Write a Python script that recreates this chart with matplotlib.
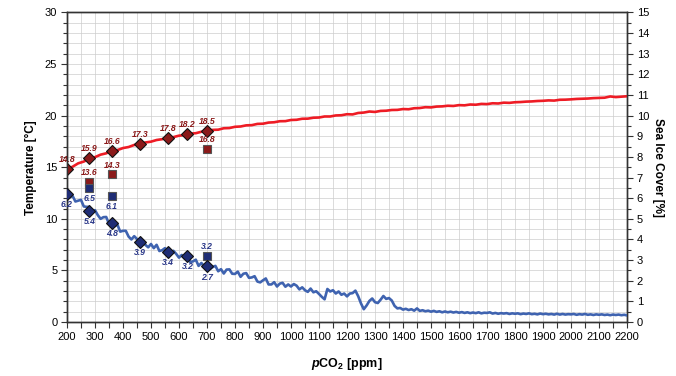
import numpy as np
import matplotlib
matplotlib.use("Agg")
import matplotlib.pyplot as plt
from matplotlib.ticker import MultipleLocator

plt.rcParams['font.family'] = ['Liberation Sans', 'DejaVu Sans']
plt.rcParams['mathtext.fontset'] = 'custom'
plt.rcParams['mathtext.it'] = 'Liberation Sans:italic:bold'
plt.rcParams['mathtext.rm'] = 'Liberation Sans:bold'
plt.rcParams['mathtext.bf'] = 'Liberation Sans:bold'

# ---- data -------------------------------------------------------------
# modelled temperature curve (left axis, °C), sampled every 20 ppm
temp_ppm = np.arange(200, 2201, 20)
temp_curve = [
    14.80, 15.05, 15.38, 15.55, 15.84, 15.98, 16.22, 16.35, 16.58, 16.66,
    16.86, 16.96, 17.16, 17.24, 17.40, 17.48, 17.64, 17.72, 17.86, 17.92,
    18.06, 18.12, 18.26, 18.30, 18.44, 18.50, 18.62, 18.64, 18.78, 18.80,
    18.92, 18.95, 19.06, 19.08, 19.20, 19.22, 19.33, 19.36, 19.46, 19.47,
    19.58, 19.60, 19.70, 19.71, 19.80, 19.82, 19.92, 19.92, 20.02, 20.04,
    20.14, 20.12, 20.26, 20.30, 20.40, 20.36, 20.46, 20.48, 20.55, 20.56,
    20.64, 20.62, 20.72, 20.74, 20.82, 20.80, 20.88, 20.90, 20.96, 20.94,
    21.02, 21.00, 21.08, 21.06, 21.14, 21.12, 21.20, 21.18, 21.26, 21.24,
    21.30, 21.32, 21.36, 21.38, 21.42, 21.44, 21.48, 21.46, 21.54, 21.55,
    21.58, 21.62, 21.64, 21.66, 21.70, 21.72, 21.74, 21.86, 21.80, 21.84,
    21.88,
]

# modelled sea-ice cover curve (right axis, %), sampled every 10 ppm
ice_ppm = np.arange(200, 2201, 10)
ice_curve = [
    6.20, 6.04, 6.11, 5.84, 5.88, 5.92, 5.60, 5.58, 5.58, 5.30,
    5.42, 5.18, 5.00, 5.08, 5.09, 4.76, 4.82, 4.64, 4.72, 4.38,
    4.42, 4.42, 4.14, 4.00, 4.16, 4.02, 3.80, 3.92, 3.74, 3.62,
    3.78, 3.58, 3.74, 3.44, 3.48, 3.58, 3.41, 3.28, 3.45, 3.30,
    3.12, 3.25, 3.08, 3.22, 2.90, 2.94, 3.02, 2.72, 2.86, 2.70,
    2.82, 2.56, 2.66, 2.72, 2.46, 2.56, 2.35, 2.54, 2.55, 2.34,
    2.33, 2.44, 2.19, 2.34, 2.37, 2.14, 2.16, 2.22, 1.96, 1.92,
    2.02, 2.11, 1.82, 1.82, 1.93, 1.72, 1.86, 1.90, 1.71, 1.82,
    1.72, 1.84, 1.76, 1.58, 1.68, 1.54, 1.46, 1.62, 1.44, 1.49,
    1.36, 1.22, 1.10, 1.60, 1.48, 1.54, 1.38, 1.48, 1.32, 1.38,
    1.24, 1.38, 1.40, 1.52, 1.25, 0.90, 0.62, 0.80, 1.02, 1.14,
    0.96, 0.92, 1.08, 1.26, 1.12, 1.16, 1.04, 0.78, 0.66, 0.68,
    0.60, 0.64, 0.58, 0.62, 0.55, 0.66, 0.54, 0.57, 0.52, 0.55,
    0.50, 0.54, 0.49, 0.52, 0.47, 0.51, 0.47, 0.50, 0.46, 0.49,
    0.45, 0.48, 0.44, 0.47, 0.43, 0.46, 0.43, 0.47, 0.42, 0.45,
    0.44, 0.47, 0.41, 0.44, 0.40, 0.43, 0.41, 0.43, 0.39, 0.42,
    0.40, 0.42, 0.38, 0.41, 0.39, 0.42, 0.38, 0.40, 0.37, 0.41,
    0.38, 0.40, 0.37, 0.39, 0.36, 0.40, 0.36, 0.39, 0.36, 0.38,
    0.37, 0.39, 0.35, 0.38, 0.36, 0.39, 0.35, 0.37, 0.34, 0.37,
    0.35, 0.37, 0.34, 0.36, 0.33, 0.36, 0.34, 0.36, 0.33, 0.35,
    0.32,
]

# diamond markers (model points)
pt_ppm = [200, 280, 360, 460, 560, 630, 700]
pt_temp = [14.8, 15.9, 16.6, 17.3, 17.8, 18.2, 18.5]
pt_ice = [6.2, 5.4, 4.8, 3.9, 3.4, 3.2, 2.7]

# square markers (other estimates)
sq_ppm = [280, 360, 700]
sq_temp = [13.6, 14.3, 16.8]
sq_ice = [6.5, 6.1, 3.2]

# ---- figure -----------------------------------------------------------
fig = plt.figure(figsize=(6.76, 3.76), dpi=100)
ax = fig.add_axes([0.0991, 0.1436, 0.8284, 0.8232])
ax2 = ax.twinx()

red_line = '#ee1c25'
blue_line = '#3f63b0'
red_mark = '#8b1a1a'
blue_mark = '#1f2d75'
red_txt = '#8b1a1a'
blue_txt = '#2a3788'

ax.set_xlim(200, 2200)
ax.set_ylim(0, 30)
ax2.set_ylim(0, 15)

ax.xaxis.set_major_locator(MultipleLocator(100))
ax.xaxis.set_minor_locator(MultipleLocator(50))
ax.yaxis.set_major_locator(MultipleLocator(5))
ax.yaxis.set_minor_locator(MultipleLocator(1))
ax2.yaxis.set_major_locator(MultipleLocator(1))
ax2.yaxis.set_minor_locator(MultipleLocator(0.5))

ax.grid(which='both', axis='both', color='#cdcdcd', lw=0.5)
ax.set_axisbelow(True)

for a in (ax, ax2):
    for s in a.spines.values():
        s.set_color('#333333')
        s.set_linewidth(1.0)

ax.tick_params(axis='both', which='major', direction='out', length=4,
               width=0.8, color='#333333', labelsize=8, pad=3)
ax.tick_params(axis='both', which='minor', direction='out', length=3,
               width=0.8, color='#333333')
ax.tick_params(axis='x', which='minor', length=4)
ax2.tick_params(axis='y', which='major', direction='out', length=4,
                width=0.8, color='#333333', labelsize=8, pad=3)
ax2.tick_params(axis='y', which='minor', direction='out', length=3,
                width=0.8, color='#333333')

# curves
ax.plot(temp_ppm, temp_curve, color=red_line, lw=1.9, zorder=3)
ax2.plot(ice_ppm, ice_curve, color=blue_line, lw=1.9, zorder=3)

# markers
ax.plot(sq_ppm, sq_temp, ls='none', marker='s', ms=6.2, mfc=red_mark,
        mec='#555555', mew=0.8, zorder=4)
ax.plot(pt_ppm, pt_temp, ls='none', marker='D', ms=6, mfc=red_mark,
        mec='#111111', mew=0.8, zorder=5)
ax2.plot(sq_ppm, sq_ice, ls='none', marker='s', ms=6.2, mfc=blue_mark,
         mec='#555555', mew=0.8, zorder=4)
ax2.plot(pt_ppm, pt_ice, ls='none', marker='D', ms=6, mfc=blue_mark,
         mec='#111111', mew=0.8, zorder=5)

lab_kw = dict(textcoords='offset points', ha='center', fontsize=6.2,
              fontweight='bold', fontstyle='italic', zorder=6)
for x, v in zip(pt_ppm, pt_temp):
    ax.annotate(f'{v:.1f}', (x, v), xytext=(0, 3.5), va='bottom',
                color=red_txt, **lab_kw)
for x, v in zip(sq_ppm, sq_temp):
    ax.annotate(f'{v:.1f}', (x, v), xytext=(0, 3.5), va='bottom',
                color=red_txt, **lab_kw)
for x, v in zip(pt_ppm, pt_ice):
    ax2.annotate(f'{v:.1f}', (x, v), xytext=(0, -4.5), va='top',
                 color=blue_txt, **lab_kw)
for i, (x, v) in enumerate(zip(sq_ppm, sq_ice)):
    if i == len(sq_ppm) - 1:
        ax2.annotate(f'{v:.1f}', (x, v), xytext=(0, 3.5), va='bottom',
                     color=blue_txt, **lab_kw)
    else:
        ax2.annotate(f'{v:.1f}', (x, v), xytext=(0, -4.5), va='top',
                     color=blue_txt, **lab_kw)

ax.set_ylabel('Temperature [°C]', fontsize=8.5, fontweight='bold', labelpad=6)
ax2.set_ylabel('Sea Ice Cover [%]', fontsize=8.5, fontweight='bold',
               rotation=270, labelpad=11)
ax.set_xlabel(r'$\it{p}$CO$_2$ [ppm]', fontsize=9, fontweight='bold',
              labelpad=10)

fig.savefig('out.png', dpi=100)
